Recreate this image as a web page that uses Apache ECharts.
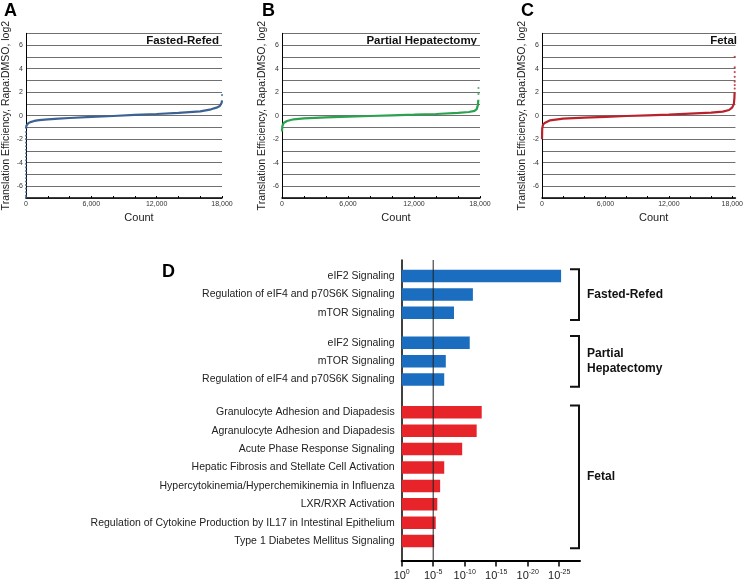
<!DOCTYPE html>
<html>
<head>
<meta charset="utf-8">
<script src="https://cdn.jsdelivr.net/npm/echarts@6/dist/echarts.min.js"></script>
<style>
html,body{margin:0;padding:0;background:#fff;}
#chart{width:746px;height:581px;}
</style>
</head>
<body>
<div id="chart"></div>
<script>
// ---------------- DATA ----------------
// Panel A: Fasted-Refed (sorted genes)
const countA = [0, 10, 40, 100, 200, 400, 760, 1200, 2000, 3000, 4000, 6000, 8000, 10000, 12000, 14000, 16000, 17000, 17500, 17800, 17920, 17970, 18000];
const teA    = [-1.1, -0.95, -0.85, -0.75, -0.65, -0.55, -0.45, -0.38, -0.31, -0.25, -0.2, -0.11, -0.03, 0.06, 0.14, 0.23, 0.37, 0.54, 0.68, 0.82, 0.95, 1.1, 1.3];
const outCountA = [0, 0, 0, 0, 0, 0, 0, 0, 0, 0, 0, 0, 0, 0, 0, 0, 0, 0, 0, 0, 18000];
const outTeA    = [-1.4, -1.7, -2.0, -2.3, -2.6, -2.9, -3.2, -3.5, -3.8, -4.1, -4.4, -4.7, -5.0, -5.3, -5.6, -5.9, -6.2, -6.5, -6.8, -6.95, 1.75];
// Panel B: Partial Hepatectomy
const countB = [0, 30, 70, 150, 450, 1060, 2000, 4000, 6000, 8000, 10000, 12000, 14000, 16000, 17000, 17500, 17700, 17800, 17850];
const teB    = [-1.35, -0.9, -0.75, -0.62, -0.45, -0.31, -0.23, -0.14, -0.08, -0.03, 0.03, 0.08, 0.14, 0.23, 0.31, 0.4, 0.55, 0.85, 1.35];
const outCountB = [17860, 17860];
const outTeB    = [1.85, 2.35];
// Panel C: Fetal
const countC = [0, 20, 100, 300, 770, 2000, 4000, 6000, 8000, 10000, 12000, 14000, 16000, 17100, 17700, 18000, 18150, 18200, 18220];
const teC    = [-2.0, -1.1, -0.75, -0.6, -0.4, -0.25, -0.17, -0.1, -0.03, 0.03, 0.09, 0.17, 0.25, 0.34, 0.48, 0.7, 1.0, 1.5, 2.0];
const outCountC = [18230, 18230, 18230, 18230, 18230, 18230, 18230];
const outTeC    = [2.3, 2.6, 2.9, 3.3, 3.7, 4.1, 5.0];

const countTicks  = [0, 2000, 4000, 6000, 8000, 10000, 12000, 14000, 16000, 18000];
const countLabels = [0, 6000, 12000, 18000];
const teLabels    = [-6, -4, -2, 0, 2, 4, 6];

// Panel D: pathway enrichment, -log10(p)
const frTerms  = ['eIF2 Signaling', 'Regulation of eIF4 and p70S6K Signaling', 'mTOR Signaling'];
const frValues = [25.3, 11.3, 8.3];
const phTerms  = ['eIF2 Signaling', 'mTOR Signaling', 'Regulation of eIF4 and p70S6K Signaling'];
const phValues = [10.8, 7.0, 6.75];
const fetalTerms  = ['Granulocyte Adhesion and Diapadesis', 'Agranulocyte Adhesion and Diapadesis', 'Acute Phase Response Signaling', 'Hepatic Fibrosis and Stellate Cell Activation', 'Hypercytokinemia/Hyperchemikinemia in Influenza', 'LXR/RXR Activation', 'Regulation of Cytokine Production by IL17 in Intestinal Epithelium', 'Type 1 Diabetes Mellitus Signaling'];
const fetalValues = [12.7, 11.9, 9.6, 6.75, 6.1, 5.65, 5.4, 5.15];
const pTicks = [0, 5, 10, 15, 20, 25];
const thresholdExp = 5;
const groupNames = ['Fasted-Refed', 'Partial\nHepatectomy', 'Fetal'];

// ---------------- LAYOUT / STYLE ----------------
const FONT = "'Liberation Sans', Arial, Helvetica, sans-serif";
const zip = (a, b) => a.map((v, i) => [v, b[i]]);
const fmtThousands = v => String(v).replace(/\B(?=(\d{3})+(?!\d))/g, ',');

const panels = [
  {letter: 'A', title: 'Fasted-Refed', left: 25, right: 222, max: 18000, color: '#3c6294', cx: countA, cy: teA, ox: outCountA, oy: outTeA},
  {letter: 'B', title: 'Partial Hepatectomy', left: 282, right: 480, max: 18000, color: '#2ba24e', cx: countB, cy: teB, ox: outCountB, oy: outTeB},
  {letter: 'C', title: 'Fetal', left: 542, right: 740, max: 18300, color: '#b8222b', cx: countC, cy: teC, ox: outCountC, oy: outTeC}
];
const pTop = 33.3, pBottom = 198;

const dLeft = 401.7, dRight = 580, dTop = 260, dAxisY = 561.7, dMax = 28.3;
const rowH = 18.4;
const groups = [
  {terms: frTerms, values: frValues, top: 266.8, color: '#1b6ebf'},
  {terms: phTerms, values: phValues, top: 333.6, color: '#1b6ebf'},
  {terms: fetalTerms, values: fetalValues, top: 403.1, color: '#e8242b'}
];

const grid = [], xAxis = [], yAxis = [], series = [], graphic = [];

panels.forEach((p, i) => {
  grid.push({left: p.left, top: pTop, width: p.right - p.left, height: pBottom - pTop});
  xAxis.push({
    type: 'value', gridIndex: i, min: 0, max: p.max,
    name: 'Count', nameLocation: 'middle', nameGap: 14,
    nameTextStyle: {fontFamily: FONT, fontSize: 11, color: '#222', padding: [0, 0, 0, 30]},
    axisLine: {show: true, onZero: false, lineStyle: {color: '#000', width: 1.5}},
    axisTick: {show: true, inside: true, length: 2, customValues: countTicks, lineStyle: {color: '#000'}},
    axisLabel: {customValues: countLabels, formatter: v => fmtThousands(v), fontFamily: FONT, fontSize: 7, color: '#333', margin: 3},
    splitLine: {show: false}
  });
  yAxis.push({
    type: 'value', gridIndex: i, min: -7, max: 7, interval: 1,
    name: 'Translation Efficiency, Rapa:DMSO, log2', nameLocation: 'middle', nameGap: 14,
    nameTextStyle: {fontFamily: FONT, fontSize: 10.5, color: '#222'},
    axisLine: {show: true, onZero: false, lineStyle: {color: '#000', width: 1}},
    axisTick: {show: false},
    axisLabel: {customValues: teLabels, fontFamily: FONT, fontSize: 7, color: '#333', margin: 3},
    splitLine: {show: true, lineStyle: {color: '#707070', width: 1}}
  });
  series.push({
    type: 'line', xAxisIndex: i, yAxisIndex: i, data: zip(p.cx, p.cy),
    showSymbol: false, symbol: 'none', lineStyle: {color: p.color, width: 2.2}, silent: true, z: 3
  });
  series.push({
    type: 'scatter', xAxisIndex: i, yAxisIndex: i, data: zip(p.ox, p.oy),
    symbolSize: 2.2, itemStyle: {color: p.color}, silent: true, z: 3
  });
  graphic.push({type: 'text', x: p.right - 3, y: pTop + 7.5,
    style: {text: p.title, fontFamily: FONT, fontSize: 11.5, fontWeight: 'bold', fill: '#111',
      align: 'right', verticalAlign: 'middle', textAlign: 'right', textVerticalAlign: 'middle'}});
});
graphic.push({type: 'text', x: 4, y: 11, style: {text: 'A', fontFamily: FONT, fontSize: 18, fontWeight: 'bold', fill: '#000', verticalAlign: 'middle', textVerticalAlign: 'middle'}});
graphic.push({type: 'text', x: 262, y: 11, style: {text: 'B', fontFamily: FONT, fontSize: 18, fontWeight: 'bold', fill: '#000', verticalAlign: 'middle', textVerticalAlign: 'middle'}});
graphic.push({type: 'text', x: 521, y: 11, style: {text: 'C', fontFamily: FONT, fontSize: 18, fontWeight: 'bold', fill: '#000', verticalAlign: 'middle', textVerticalAlign: 'middle'}});
graphic.push({type: 'text', x: 162, y: 272, style: {text: 'D', fontFamily: FONT, fontSize: 18, fontWeight: 'bold', fill: '#000', verticalAlign: 'middle', textVerticalAlign: 'middle'}});

// Panel D main axes grid
const dMain = grid.length;
grid.push({left: dLeft, top: dTop, width: dRight - dLeft, height: dAxisY - dTop});
xAxis.push({
  type: 'value', gridIndex: dMain, min: 0, max: dMax,
  axisLine: {show: true, onZero: false, lineStyle: {color: '#000', width: 2}},
  axisTick: {show: true, length: 6, customValues: pTicks, lineStyle: {color: '#000', width: 1.5}},
  axisLabel: {
    customValues: pTicks, margin: 8,
    formatter: v => '{b|10}{s|' + (v === 0 ? '0' : '-' + v) + '}',
    rich: {
      b: {fontFamily: FONT, fontSize: 11, color: '#222', lineHeight: 14},
      s: {fontFamily: FONT, fontSize: 7, color: '#222', lineHeight: 14, verticalAlign: 'top'}
    }
  },
  splitLine: {show: false}
});
yAxis.push({
  type: 'value', gridIndex: dMain, min: 0, max: 1,
  axisLine: {show: true, onZero: false, lineStyle: {color: '#000', width: 1.5}},
  axisTick: {show: false}, axisLabel: {show: false}, splitLine: {show: false}
});
series.push({
  type: 'line', xAxisIndex: dMain, yAxisIndex: dMain,
  data: [[thresholdExp, 0], [thresholdExp, 1]],
  showSymbol: false, symbol: 'none', lineStyle: {color: '#222', width: 1}, silent: true, z: 5
});

groups.forEach((g, k) => {
  const gi = grid.length;
  const h = g.terms.length * rowH;
  grid.push({left: dLeft, top: g.top, width: dRight - dLeft, height: h});
  xAxis.push({type: 'value', gridIndex: gi, min: 0, max: dMax, show: false});
  yAxis.push({
    type: 'category', gridIndex: gi, data: g.terms, inverse: true,
    axisLine: {show: false}, axisTick: {show: false},
    axisLabel: {fontFamily: FONT, fontSize: 10.5, color: '#222', margin: 7}
  });
  series.push({
    type: 'bar', xAxisIndex: gi, yAxisIndex: gi, data: g.values,
    barWidth: 12.5, itemStyle: {color: g.color}, silent: true, z: 2
  });
  // bracket
  const bt = g.top + 2.5, bb = g.top + h - 2;
  graphic.push({type: 'polyline', shape: {points: [[570, bt], [579, bt], [579, bb], [570, bb]]},
    style: {stroke: '#111', lineWidth: 2, fill: null}});
  graphic.push({type: 'text', x: 587, y: g.top + h / 2,
    style: {text: groupNames[k], fontFamily: FONT, fontSize: 12, fontWeight: 'bold', fill: '#111', lineHeight: 14.5,
      align: 'left', verticalAlign: 'middle', textAlign: 'left', textVerticalAlign: 'middle'}});
});

const chart = echarts.init(document.getElementById('chart'), null, {renderer: 'canvas'});
chart.setOption({
  animation: false,
  backgroundColor: '#fff',
  grid, xAxis, yAxis, series, graphic
});
</script>
</body>
</html>
